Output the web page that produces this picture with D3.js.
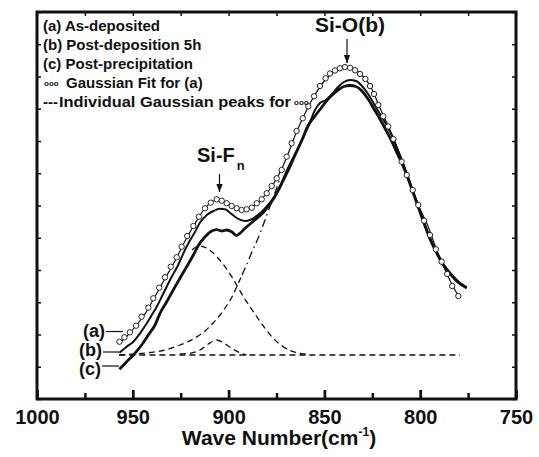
<!DOCTYPE html>
<html>
<head>
<meta charset="utf-8">
<script src="https://cdn.jsdelivr.net/npm/d3@7"></script>
<style>
  body { margin: 0; background: #fff; }
  text { font-family: "Liberation Sans", Arial, Helvetica, sans-serif; font-weight: bold; fill: #111; }
</style>
</head>
<body>
<div id="chart"></div>
<script>
// wave number (cm-1), intensity (a.u.)
var majorTicks = [1000, 950, 900, 850, 800, 750];
var minorTicks = [975, 925, 875, 825, 775];

// (a) As-deposited
var curveA = [[957.5,55],[953,63],[948,74],[943,87],[938,104],[933,121],[928,138],[923,157],[918,174],[913,189],
  [908.5,197.5],[905,199],[901,196],[897,191.5],[893,188.5],[889.5,190],[885,196],[880,206],[875,220],[870,240],
  [865,265],[860,286],[855,304],[850,318],[845,327],[840,331],[836,331],[831,325],[826,313],[821,291],[816,270],
  [811,247],[806,221],[801,194],[796,173],[791,147],[786,125],[783,113],[780,103]];

// (b) Post-deposition 5h
var curveB = [[957,46.3],[953.2,52.3],[949.7,57.3],[946.2,65.7],[942.7,75.7],[940.1,84],[937.5,92.3],[934.9,102.3],
  [932.3,112.3],[929.7,122.3],[926.3,134],[923.6,145.7],[921,155.7],[917.5,167.3],[914.9,176.5],[911.4,184],[908,188],
  [904.5,190.2],[901.9,189.7],[899.3,186.3],[896.7,182.3],[894.1,179.4],[891.4,178],[888.8,179],[886.2,181.8],
  [882.7,187.4],[879.3,194.4],[875.8,203.2],[873.2,211.5],[870.6,224],[868,235],[864.5,248],[861,262],[857.5,277],
  [854.9,289],[852.3,296],[849.2,299],[846,305],[842.9,312],[839.8,317],[836.6,319],[833.5,318],[830.4,313],
  [827.2,305],[824.1,295],[821,285],[817.9,275],[814.7,263],[811.6,248],[807.9,230],[805.3,216],[802.7,202],
  [800.1,188],[797.5,174],[794.9,161],[791.4,147],[787.9,135],[783.6,124.5],[780.1,117.5],[775.7,111.7]];

// (c) Post-precipitation
var curveC = [[957,29.7],[953.2,37.3],[949.7,44],[945.4,54],[941.9,64],[938.4,74],[935.8,85.7],[932.3,97.3],
  [928.9,109],[925.4,120.7],[921.9,132.3],[918.4,144],[915.8,153.5],[912.3,162.3],[908.8,168],[906.2,169.4],
  [903.6,168],[901,169],[898.4,167.3],[895.8,163.5],[894.1,165.7],[891.4,170.7],[887.9,176.5],[884.5,182],
  [881,188.5],[877.5,197.4],[874.9,205.7],[872.3,215.7],[868.8,229],[865.3,244],[861.7,259],[858.6,273],
  [854.9,283],[851.3,292],[847.1,302],[842.9,309],[839.8,312.5],[836.6,313.5],[833.5,312.5],[830.4,308],
  [827.2,300],[824.1,290],[821,280],[817.9,269],[814.7,257],[811.6,244],[808.5,231],[805.3,215],[802.7,201],
  [800.1,187],[797.5,173],[794.9,160],[791.4,146],[787.9,134],[783.6,123.5],[780.1,116.5],[775.7,111]];

// Gaussian fit for (a)
var fitA = [[957,57.3],[954.4,61.7],[951.5,66.7],[948.3,73.3],[945.4,82.3],[941.9,91.3],[939.3,100.7],[936.2,111.3],
  [933.2,121.7],[930.2,132.3],[927.1,141.7],[924.5,152.3],[921.6,163],[918.4,173],[915.5,182.3],[912.3,190.7],
  [909.3,196.3],[906.2,199.7],[903.6,198.3],[901,195.7],[898.4,193],[895.8,190.7],[893.2,189],[890.6,189.7],
  [887.9,191.3],[885.3,195.7],[882.7,199.7],[880.1,205.7],[877.5,213],[874.9,220.7],[872.3,229],[869.7,242.3],
  [867.1,255.7],[864.5,268],[861.3,280.7],[858.4,292.7],[855.4,302.7],[852.3,313],[849.4,320.7],[847.1,325.5],
  [844.5,328.5],[841.9,330.7],[839.3,332],[836.6,331.2],[834,328.7],[831.4,325],[828.6,320],[826.2,313],
  [824.1,305],[821.9,294],[819.3,282.7],[816.7,272.5],[814,260],[809.7,237.3],[807,224],[803.9,209],[801,194],
  [798,178.3],[794.9,164],[791.8,149.7],[788.8,137.3],[785.9,125],[783.3,113],[780.1,103]];

// individual Gaussian peaks
var baseline = [[957,44],[779.2,44]];
var peakSmall = [[925.4,45],[920.2,45.7],[914.9,49],[910.6,55],[906.2,59],[902.8,56.3],[898.4,50.7],[894.1,46.3],[890.6,44]];
var peakSiF = [[919.1,149],[917,152],[914.9,153],[912.3,151.7],[908.8,147.3],[905.4,140.7],[901.9,132.3],[898.4,122.3],
  [895.8,114],[892.3,102.3],[888.8,92.3],[885.3,82.3],[881,70.7],[876.7,60.7],[871.5,52.3],[866.2,47.3],[862.7,45.7],[857.5,44.5]];
var peakSiO = [[957.2,44],[948.9,45],[941,46.5],[933.2,49],[925.4,54],[917.5,61],[912.3,68],[908.1,76],[904.5,84],
  [900.8,94],[897.7,104],[895.6,113],[893,124],[890.4,135],[888.3,145],[885.7,156],[883.1,168],[881,179],
  [878.9,190],[876.8,201],[874.7,212],[873.2,220]];

var width = 539, height = 457;
var mLeft = 37, mRight = 516, mTop = 12, mBottom = 399;

var svg = d3.select("#chart").append("svg")
  .attr("width", width)
  .attr("height", height);

var x = d3.scaleLinear().domain([1000, 750]).range([mLeft, mRight]);
var y = d3.scaleLinear().domain([0, 387]).range([mBottom, mTop]);
var yTicks = d3.range(0, 13).map(function(i) { return i * 387 / 12; });

var line = d3.line()
  .x(function(d) { return x(d[0]); })
  .y(function(d) { return y(d[1]); })
  .curve(d3.curveMonotoneX);

// axes, ticks pointing inward
function styleAxis(g, w) {
  g.select(".domain").remove();
  g.selectAll(".tick line").attr("stroke", "#111").attr("stroke-width", w);
}

svg.append("g")
  .attr("transform", "translate(0," + mBottom + ")")
  .call(d3.axisBottom(x).tickValues(minorTicks).tickSize(-6).tickFormat(""))
  .call(styleAxis, 2.5);

svg.append("g")
  .attr("transform", "translate(0," + mBottom + ")")
  .call(d3.axisBottom(x).tickValues(majorTicks).tickSize(-9).tickPadding(11).tickFormat(d3.format("d")))
  .call(styleAxis, 2.8)
  .selectAll("text")
  .attr("font-size", 20)
  .attr("font-family", "Liberation Sans, Arial, sans-serif")
  .attr("font-weight", "bold")
  .attr("fill", "#111");

svg.append("g")
  .attr("transform", "translate(0," + mTop + ")")
  .call(d3.axisTop(x).tickValues(d3.range(1000, 749, -25)).tickSize(-4).tickFormat(""))
  .call(styleAxis, 1.5);

svg.append("g")
  .attr("transform", "translate(" + mLeft + ",0)")
  .call(d3.axisLeft(y).tickValues(yTicks).tickSize(-4).tickFormat(""))
  .call(styleAxis, 1.5);

svg.append("g")
  .attr("transform", "translate(" + mRight + ",0)")
  .call(d3.axisRight(y).tickValues(yTicks).tickSize(-4).tickFormat(""))
  .call(styleAxis, 1.5);

svg.append("rect")
  .attr("x", mLeft).attr("y", mTop)
  .attr("width", mRight - mLeft).attr("height", mBottom - mTop)
  .attr("fill", "none").attr("stroke", "#111").attr("stroke-width", 3);

// dashed Gaussian components
var dashed = [baseline, peakSmall, peakSiF, peakSiO.slice(0, 13)];
dashed.forEach(function(p) {
  svg.append("path").attr("d", line(p))
    .attr("fill", "none").attr("stroke", "#111").attr("stroke-width", 1.3)
    .attr("stroke-dasharray", "6,4");
});
svg.append("path").attr("d", line(peakSiO.slice(12)))
  .attr("fill", "none").attr("stroke", "#111").attr("stroke-width", 1.3)
  .attr("stroke-dasharray", "8,4,1.5,4");

// measured spectra
svg.append("path").attr("d", line(curveC))
  .attr("fill", "none").attr("stroke", "#111").attr("stroke-width", 2.8);
svg.append("path").attr("d", line(curveB))
  .attr("fill", "none").attr("stroke", "#111").attr("stroke-width", 2);
svg.append("path").attr("d", line(curveA))
  .attr("fill", "none").attr("stroke", "#111").attr("stroke-width", 1.2);

svg.selectAll("circle.fit")
  .data(fitA)
  .enter()
  .append("circle")
  .attr("class", "fit")
  .attr("cx", function(d) { return x(d[0]); })
  .attr("cy", function(d) { return y(d[1]); })
  .attr("r", 2.7)
  .attr("fill", "#fff")
  .attr("stroke", "#111")
  .attr("stroke-width", 0.9);

// legend
var legend = svg.append("g").attr("font-size", 15);
legend.append("text").attr("x", 43).attr("y", 31).text("(a) As-deposited");
legend.append("text").attr("x", 43).attr("y", 50).text("(b) Post-deposition 5h");
legend.append("text").attr("x", 43).attr("y", 69).text("(c) Post-precipitation");
legend.append("text").attr("x", 44).attr("y", 86).attr("font-size", 8).attr("font-weight", "normal").text("ooo");
legend.append("text").attr("x", 66).attr("y", 88).text("Gaussian Fit for (a)");
legend.append("text").attr("x", 43).attr("y", 107).text("---");
legend.append("text").attr("x", 59).attr("y", 107)
  .attr("textLength", 232).attr("lengthAdjust", "spacingAndGlyphs")
  .text("Individual Gaussian peaks for");
legend.append("text").attr("x", 294).attr("y", 105).attr("font-size", 8).attr("font-weight", "normal").text("ooo");

// annotations
svg.append("defs").append("marker")
  .attr("id", "arrow").attr("viewBox", "0 0 10 10")
  .attr("refX", 10).attr("refY", 5)
  .attr("markerWidth", 7).attr("markerHeight", 7)
  .attr("orient", "auto")
  .append("path").attr("d", "M0,1 L10,5 L0,9 Z").attr("fill", "#111");

svg.append("text").attr("x", 350).attr("y", 32).attr("font-size", 21)
  .attr("text-anchor", "middle").text("Si-O(b)");
svg.append("line").attr("x1", 347).attr("y1", 39).attr("x2", 347).attr("y2", 63)
  .attr("stroke", "#111").attr("stroke-width", 1.2).attr("marker-end", "url(#arrow)");

var siF = svg.append("text").attr("x", 197).attr("y", 162).attr("font-size", 20);
siF.append("tspan").text("Si-F");
siF.append("tspan").attr("font-size", 13).attr("dy", 8).attr("dx", 2).text("n");
svg.append("line").attr("x1", 219.5).attr("y1", 174).attr("x2", 219.5).attr("y2", 192)
  .attr("stroke", "#111").attr("stroke-width", 1.2).attr("marker-end", "url(#arrow)");

var tags = [["(a)", 105, 337, 106, 123, 331.5], ["(b)", 102, 356, 103, 119, 352], ["(c)", 101, 375, 102, 119, 366]];
tags.forEach(function(t) {
  svg.append("text").attr("x", t[1]).attr("y", t[2]).attr("font-size", 18)
    .attr("text-anchor", "end").text(t[0]);
  svg.append("line").attr("x1", t[3]).attr("x2", t[4]).attr("y1", t[5]).attr("y2", t[5])
    .attr("stroke", "#111").attr("stroke-width", 1.2);
});

// axis title
var title = svg.append("text").attr("x", 279).attr("y", 445).attr("font-size", 21)
  .attr("text-anchor", "middle");
title.append("tspan").text("Wave Number(cm");
title.append("tspan").attr("font-size", 12).attr("dy", -9).text("-1");
title.append("tspan").attr("dy", 9).text(")");
</script>
</body>
</html>
